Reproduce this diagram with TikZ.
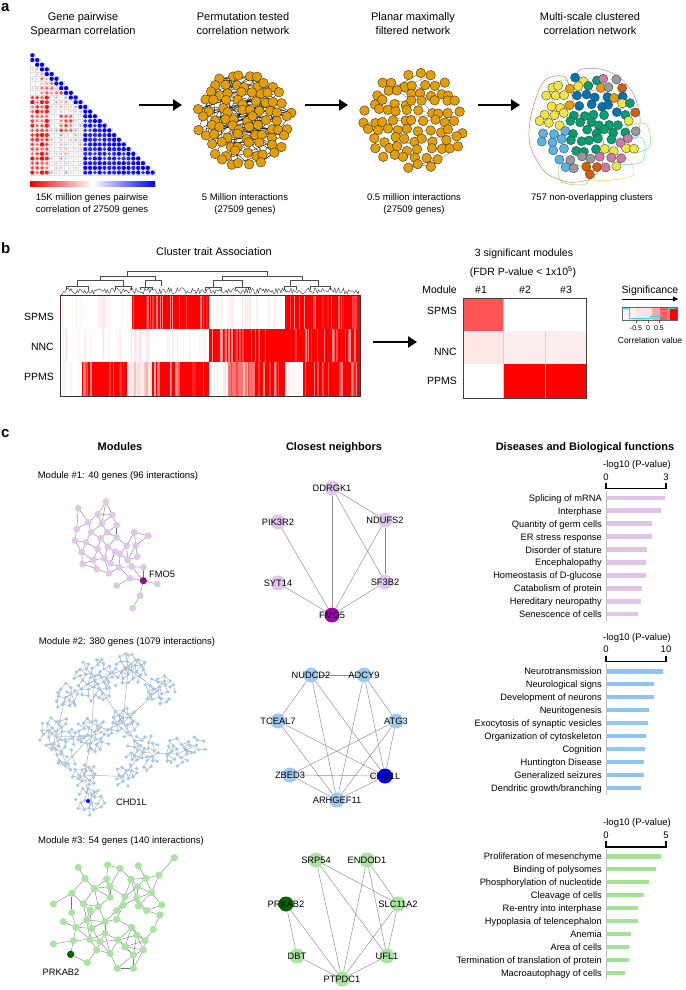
\documentclass[tikz,border=0pt]{standalone}
\usepackage{fontspec}
\setmainfont{Liberation Sans}
\usetikzlibrary{arrows.meta}
\definecolor{okor}{RGB}{228,158,0}
\definecolor{oksky}{RGB}{86,180,233}
\definecolor{okgreen}{RGB}{0,158,115}
\definecolor{okyel}{RGB}{240,228,66}
\definecolor{okblue}{RGB}{0,114,178}
\definecolor{okver}{RGB}{213,94,0}
\definecolor{okpink}{RGB}{204,121,167}
\definecolor{okgray}{RGB}{153,153,153}
\definecolor{mAc}{RGB}{224,198,232}
\definecolor{mAd}{RGB}{153,0,170}
\definecolor{mBc}{RGB}{158,202,240}
\definecolor{mBd}{RGB}{0,0,235}
\definecolor{mCc}{RGB}{168,228,160}
\definecolor{mCd}{RGB}{0,100,0}
\definecolor{barP}{RGB}{224,196,232}
\definecolor{barB}{RGB}{142,196,242}
\definecolor{barG}{RGB}{162,226,150}
\definecolor{cyanL}{RGB}{40,220,230}
\definecolor{hmSP}{RGB}{255,85,85}
\definecolor{hmNA}{RGB}{252,230,230}
\definecolor{hmNB}{RGB}{253,236,236}
\definecolor{huR}{RGB}{240,120,90}
\definecolor{huP}{RGB}{190,120,230}
\definecolor{huG}{RGB}{150,220,100}
\definecolor{huC}{RGB}{90,220,235}
\definecolor{huY}{RGB}{235,220,90}
\definecolor{huG2}{RGB}{120,220,120}
\newcount\netcnt
\newcommand\jitnet[5]{%
  \global\netcnt=0
  \foreach \gy in {-7,...,7}{%
    \foreach \gx in {-7,...,7}{%
      \pgfmathsetmacro\px{#5*\gx+#5*0.5*mod(\gy+20,2)+(rnd-0.5)*#5*0.6}%
      \pgfmathsetmacro\py{#5*0.88*\gy+(rnd-0.5)*#5*0.6}%
      \pgfmathtruncatemacro\ins{((\px)*(\px)+(\py)*(\py))<(#4*#4)}%
      \ifnum\ins=1
        \global\advance\netcnt by 1
        \pgfmathtruncatemacro\cur{\the\netcnt}%
        \coordinate (#1\cur) at ({#2+(\px)},{#3+(\py)});%
      \fi
  }}%
  \xdef\NN{\the\netcnt}%
}
\newcommand\hblock[7]{%
  \fill[red!#5!white] (#1,#3) rectangle (#2,#4);
  \pgfmathtruncatemacro\ns{max(1,(#2-#1)/4)}%
  \foreach \k in {1,...,\ns}{%
    \pgfmathsetmacro\sx{#1+rnd*(#2-#1-2)}%
    \pgfmathsetmacro\sw{0.4+rnd*1.8}%
    \pgfmathtruncatemacro\sp{#6+rnd*(#7-#6)}%
    \fill[red!\sp!white] (\sx,#3) rectangle ({\sx+\sw},#4);
  }}
\newcommand\mkcl[5]{%
  \foreach \k in {1,...,#5}{%
    \pgfmathsetmacro\rr{#4*sqrt((\k-0.5)/#5)}%
    \pgfmathsetmacro\aa{\k*137.508}%
    \pgfmathsetmacro\qx{#2+\rr*cos(\aa)+(rnd-0.5)*3.2}%
    \pgfmathsetmacro\qy{#3+\rr*sin(\aa)+(rnd-0.5)*3.2}%
    \expandafter\xdef\csname qx#1@\k\endcsname{\qx}%
    \expandafter\xdef\csname qy#1@\k\endcsname{\qy}%
    \coordinate (m2#1-\k) at (\qx,\qy);
  }%
  \foreach \k in {2,...,#5}{%
    \pgfmathtruncatemacro\km{\k-1}%
    \foreach \l in {1,...,\km}{%
      \pgfmathsetmacro\dd{veclen(\csname qx#1@\k\endcsname-\csname qx#1@\l\endcsname,\csname qy#1@\k\endcsname-\csname qy#1@\l\endcsname)}%
      \pgfmathtruncatemacro\ok{(\dd<8.2) && (rnd<0.7)}%
      \ifnum\ok=1 \draw[eB] (m2#1-\k) -- (m2#1-\l); \fi
  }}%
}
\newcommand\barchart[3]{%
  \foreach \lab/\len [count=\r from 0] in {#3}{%
    \pgfmathsetmacro\yy{#1+\r*12.95}%
    \fill[#2] (607,{\yy-2.2}) rectangle (\len,{\yy+2.2});
    \node[barL] (bl-#2-\r) at (602,{\yy+3.5}) {\lab};
  }%
  \draw[axisl] (606,{#1-7}) -- (606,{#1+9*12.95+7});
}
\def\MoneX{{318,235,293,337,265,305,350,230,273,322,403,445,225,258,302,350,380,407,245,293,323,345,360,383,412,248,290,313,332,280,358,327,395,430,390,350,472,420,398,430}}
\def\MoneY{{515,535,553,555,577,582,585,597,607,607,607,617,632,637,625,622,647,647,667,657,650,665,672,690,680,702,717,685,700,690,712,730,710,712,745,767,762,797,835,752}}
\def\MthrX{{523,235,323,360,415,255,320,393,437,477,283,330,413,455,215,375,330,410,160,250,295,370,415,485,215,270,350,440,260,350,228,315,460,275,395,315,410,220,270,355,160,290,375,430,212,330,400,262,352,400,480,190,435,300}}
\def\MthrY{{713,742,735,745,737,775,778,778,775,765,805,800,800,818,820,830,832,835,852,852,860,855,858,855,878,870,872,872,900,898,922,905,928,925,922,940,945,962,958,960,972,990,980,990,1003,1000,1005,1028,1045,1045,885,905,962,965}}
\begin{document}
\begin{tikzpicture}[x=1pt,y=-1pt,
 tA/.style={font=\fontsize{11}{13}\selectfont, inner sep=0pt, anchor=base},
 tB/.style={font=\fontsize{9.5}{11}\selectfont, inner sep=0pt, anchor=base},
 tBold/.style={font=\fontsize{11}{13}\selectfont\bfseries, inner sep=0pt, anchor=base},
 tS/.style={font=\fontsize{7}{8}\selectfont, inner sep=0pt, anchor=base},
 panelL/.style={font=\fontsize{15}{17}\selectfont\bfseries, inner sep=0pt, anchor=base west},
 rowL/.style={font=\fontsize{10.5}{12}\selectfont, inner sep=0pt, anchor=base east},
 barL/.style={font=\fontsize{9.3}{11}\selectfont, inner sep=0pt, anchor=base east},
 geneL/.style={font=\fontsize{9.3}{11}\selectfont, inner sep=0pt},
 bigarrow/.style={line width=2.6pt, -{Triangle[length=9pt,width=11pt]}},
 smallarrow/.style={line width=0.8pt, -{Triangle[length=5pt,width=5pt]}},
 orn/.style={fill=okor, draw=black!85, line width=0.35pt},
 pedge/.style={black, line width=0.35pt},
 pledge/.style={black!55, line width=0.3pt},
 eA/.style={black!55, line width=0.35pt},
 eB/.style={black!45, line width=0.3pt},
 cmgrid/.style={black!12, line width=0.2pt},
 dend/.style={black!70, line width=0.5pt},
 axisl/.style={black!25, line width=0.6pt},
 brk/.style={black, line width=1.1pt},
 nbn/.style={circle, minimum size=15pt, inner sep=0pt},
 nbedge/.style={black!45, line width=0.45pt},
 hull/.style={line width=0.5pt}]
\useasboundingbox (0,0) rectangle (685,990);
\fill[white] (0,0) rectangle (685,990);
\pgfmathsetseed{11}

% ================= panel a =================
\node[panelL] (pa) at (1,12) {a};
\node[tA] (ta1) at (83,20.5) {Gene pairwise};
\node[tA] (ta2) at (83,34.5) {Spearman correlation};
\node[tA] (tb1) at (243,20.5) {Permutation tested};
\node[tA] (tb2) at (243,34.5) {correlation network};
\node[tA] (tc1) at (413,20.5) {Planar maximally};
\node[tA] (tc2) at (413,34.5) {filtered network};
\node[tA] (td1) at (590,20.5) {Multi-scale clustered};
\node[tA] (td2) at (590,34.5) {correlation network};
\node[tB] (ba1) at (92,200) {15K million genes pairwise};
\node[tB] (ba2) at (92,212.5) {correlation of 27509 genes};
\node[tB] (bb1) at (245,200) {5 Million interactions};
\node[tB] (bb2) at (245,212.5) {(27509 genes)};
\node[tB] (bc1) at (414,200) {0.5 million interactions};
\node[tB] (bc2) at (414,212.5) {(27509 genes)};
\node[tB] (bd1) at (592,200) {757 non-overlapping clusters};

% correlation matrix
\foreach \i in {0,...,25}{\foreach \j in {0,...,\i}{%
  \pgfmathsetmacro\cx{30+(\j+0.5)*4.808}%
  \pgfmathsetmacro\cy{53+(\i+0.5)*4.69}%
  \draw[cmgrid] ({\cx-2.404},{\cy-2.345}) rectangle ({\cx+2.404},{\cy+2.345});
  \pgfmathsetmacro\vv{(\i-\j<=1) ? 1 : ((\j>=11) ? (0.8+0.2*rnd) : ((\j<=3 && \i>=9) ? (-0.55-0.45*rnd) : ((\j>=2 && \j<=6 && \i>=3 && \i<=8) ? (-0.25-0.55*rnd) : ((\j>=6 && \j<=8 && \i>=13 && \i<=16) ? (-0.5-0.4*rnd) : ((rnd-0.5)*0.8)))))}%
  \pgfmathsetmacro\av{abs(\vv)}%
  \pgfmathtruncatemacro\pc{100*\av}%
  \pgfmathsetmacro\rad{0.3+1.85*sqrt(\av)}%
  \pgfmathtruncatemacro\sg{\vv>0}%
  \ifnum\sg=1 \def\hue{blue}\else\def\hue{red}\fi
  \fill[\hue!\pc!white] (\cx,\cy) circle[radius=\rad pt];
}}
\shade[left color=red, right color=white] (30,181) rectangle (92.5,186);
\shade[left color=white, right color=blue] (92.5,181) rectangle (155,186);

% arrows
\coordinate (ar1s) at (139,105); \coordinate (ar1e) at (182,105);
\coordinate (ar2s) at (305,105); \coordinate (ar2e) at (348,105);
\coordinate (ar3s) at (478,105); \coordinate (ar3e) at (520,105);
\draw[bigarrow] (ar1s) -- (ar1e);
\draw[bigarrow] (ar2s) -- (ar2e);
\draw[bigarrow] (ar3s) -- (ar3e);

% permutation network
\jitnet{pp}{245}{119}{49}{9.8}
\foreach \k in {1,...,120}{%
  \pgfmathtruncatemacro\ea{random(1,\NN)}%
  \pgfmathtruncatemacro\eb{max(1,min(\NN,\ea+random(0,30)-15))}%
  \draw[pedge] (pp\ea) -- (pp\eb);
}
\foreach \k in {1,...,45}{%
  \pgfmathtruncatemacro\ea{random(1,\NN)}%
  \pgfmathtruncatemacro\eb{random(1,\NN)}%
  \draw[pedge] (pp\ea) -- (pp\eb);
}
\foreach \i in {1,...,\NN}{\filldraw[orn] (pp\i) circle (4.8pt);}

% planar network
\jitnet{pl}{414}{121}{51}{10.4}
\foreach \k in {1,...,55}{%
  \pgfmathtruncatemacro\ea{random(1,\NN)}%
  \pgfmathtruncatemacro\eb{min(\NN,\ea+((rnd<0.5) ? 1 : 10))}%
  \draw[pledge] (pl\ea) -- (pl\eb);
}
\foreach \i in {1,...,\NN}{\filldraw[orn] (pl\i) circle (4.8pt);}

% clustered network hulls
\draw[hull, draw=huR] plot[smooth cycle] coordinates {(531,115) (544,81) (565,77) (573,100) (582,120) (602,134) (602,165) (590,179) (568,182) (545,172) (530,145)};
\draw[hull, draw=huP] plot[smooth cycle] coordinates {(578,71) (600,69) (620,78) (634,95) (640,118) (637,138) (627,133) (628,120) (622,106) (611,96) (597,90) (582,91)};
\draw[hull, draw=huG] plot[smooth cycle] coordinates {(626,128) (646,124) (650,146) (633,152)};
\draw[hull, draw=huC] plot[smooth cycle] coordinates {(612,140) (642,138) (642,162) (612,162)};
\draw[hull, draw=huY] plot[smooth cycle] coordinates {(586,160) (626,158) (632,176) (592,180)};
\draw[hull, draw=huG2] plot[smooth cycle] coordinates {(550,88) (566,80) (572,100) (556,106)};
\draw[hull, draw=huC] plot[smooth cycle] coordinates {(602,100) (628,104) (630,124) (606,122)};
\draw[hull, draw=huG] plot[smooth cycle] coordinates {(560,165) (590,168) (586,184) (562,182)};
% clustered network nodes
\global\netcnt=0
\foreach \gy in {-7,...,7}{\foreach \gx in {-7,...,7}{%
  \pgfmathsetmacro\px{10*\gx+5*mod(\gy+20,2)+(rnd-0.5)*5}%
  \pgfmathsetmacro\py{8.8*\gy+(rnd-0.5)*5}%
  \pgfmathtruncatemacro\ins{((\px)*(\px)+(\py)*(\py))<2704}%
  \ifnum\ins=1
   \global\advance\netcnt by 1
   \pgfmathtruncatemacro\cur{\the\netcnt}%
   \pgfmathsetmacro\rr{veclen(\px,\py)}%
   \pgfmathsetmacro\ang{atan2((-1)*(\py),\px)}%
   \pgfmathtruncatemacro\flip{rnd<0.5}%
   \pgfmathtruncatemacro\cc{(\rr>37 && \ang>-20 && \ang<110) ? (mod(\cur,7)+1) : ((\px<-22) ? ((\py<6) ? 3 : 1) : ((\rr>28 && \ang<=-20 && \ang>-75) ? 8 : ((\py>32) ? 9 : ((\py<-10) ? 10 : 4))))}%
   \ifcase\cc \def\col{okgreen}\or\def\col{oksky}\or\def\col{okblue}\or\def\col{okyel}\or\def\col{okgreen}\or\def\col{okpink}\or\def\col{okgray}\or\def\col{okver}%
   \or\ifnum\flip=1 \def\col{okyel}\else\def\col{okpink}\fi
   \or\ifnum\flip=1 \def\col{okgray}\else\def\col{okver}\fi
   \or\ifnum\flip=1 \def\col{okor}\else\def\col{okblue}\fi
   \fi
   \filldraw[fill=\col, draw=black!75, line width=0.35pt] ({590+(\px)},{123+(\py)}) circle (4.6pt);
  \fi
}}

% ================= panel b =================
\node[panelL] (pb) at (1,253) {b};
\node[tA] (cta) at (214,255.5) {Cluster trait Association};
% dendrogram
\draw[dend] (127,276)--(127,271)--(267,271)--(267,276);
\draw[dend] (100,280)--(100,276)--(155,276)--(155,280);
\draw[dend] (77,286)--(77,280)--(123,280)--(123,286);
\draw[dend] (145,287)--(145,280)--(161,280)--(161,286);
\draw[dend] (222,280)--(222,276)--(302,276)--(302,280);
\draw[dend] (213,287)--(213,280)--(242,280)--(242,287);
\draw[dend] (290,286)--(290,280)--(318,280)--(318,286);
\draw[dend] (66,290)--(66,286)--(88,286)--(88,290) (115,290)--(115,286)--(131,286)--(131,290) (140,290)--(140,287)--(152,287)--(152,290);
\draw[dend] (205,291)--(205,287)--(221,287)--(221,291) (235,290)--(235,287)--(250,287)--(250,290) (284,290)--(284,286)--(296,286)--(296,290) (310,290)--(310,286)--(330,286)--(330,290);
\draw[black!85, line width=0.35pt] (61,295) \foreach \k in {1,...,238}{ -- ({61+\k*1.25},{294-rnd*6.5}) } -- (359,295);
% heatmap
\hblock{60}{132}{295}{328.7}{0}{2}{15}
\hblock{132}{209}{295}{328.7}{100}{40}{95}
\hblock{209}{285}{295}{328.7}{0}{2}{12}
\hblock{285}{360}{295}{328.7}{100}{40}{95}
\hblock{60}{209}{328.7}{362.3}{0}{2}{12}
\hblock{209}{360}{328.7}{362.3}{100}{40}{95}
\hblock{60}{82}{362.3}{396}{0}{2}{10}
\hblock{82}{127}{362.3}{396}{100}{40}{95}
\hblock{127}{152}{362.3}{396}{8}{3}{45}
\hblock{152}{209}{362.3}{396}{100}{35}{95}
\hblock{209}{228}{362.3}{396}{0}{2}{12}
\hblock{228}{255}{362.3}{396}{55}{15}{95}
\hblock{255}{285}{362.3}{396}{100}{40}{95}
\hblock{285}{303}{362.3}{396}{3}{0}{10}
\hblock{303}{360}{362.3}{396}{100}{40}{95}
\draw[black!80, line width=0.7pt] (60,295) rectangle (360,396);
\node[rowL] (rl1) at (54,320) {SPMS};
\node[rowL] (rl2) at (54,350.5) {NNC};
\node[rowL] (rl3) at (54,380.5) {PPMS};
\coordinate (ar4s) at (373,342); \coordinate (ar4e) at (417,342);
\draw[bigarrow] (ar4s) -- (ar4e);
% modules heatmap
\node[tA, font=\fontsize{10.5}{12}\selectfont] (sm1) at (524,256) {3 significant modules};
\node[tA, font=\fontsize{10.5}{12}\selectfont] (sm2) at (523,275) {(FDR P-value < 1x10\textsuperscript{5})};
\node[rowL] (mh) at (457,293) {Module};
\node[tA, font=\fontsize{10.5}{12}\selectfont] (mh1) at (481,293) {\#1};
\node[tA, font=\fontsize{10.5}{12}\selectfont] (mh2) at (525,293) {\#2};
\node[tA, font=\fontsize{10.5}{12}\selectfont] (mh3) at (566,293) {\#3};
\fill[white] (463,298) rectangle (586,398);
\fill[hmSP] (463,298) rectangle (503,331);
\fill[hmNA] (463,331) rectangle (503,364);
\fill[hmNB] (503,331) rectangle (586,364);
\fill[red] (503,364) rectangle (586,398);
\draw[red!25!white, line width=0.5pt] (503,298) -- (503,398);
\draw[red!25!white, line width=0.5pt] (545,331) -- (545,398);
\draw[black!75, line width=0.7pt] (463,298) rectangle (586,398);
\node[rowL] (rr1) at (457,314) {SPMS};
\node[rowL] (rr2) at (457,355) {NNC};
\node[rowL] (rr3) at (457,384.3) {PPMS};
% legend
\node[tA, font=\fontsize{10.5}{12}\selectfont] (sig) at (650,293) {Significance};
\coordinate (sgs) at (622,299); \coordinate (sge) at (678,299);
\draw[smallarrow] (sgs) -- (sge);
\fill[red!4!white] (622,307) rectangle (636,320);
\fill[red!10!white] (636,307) rectangle (652,320);
\fill[red!35!white] (652,307) rectangle (660,320);
\fill[red!65!white] (660,307) rectangle (667,320);
\fill[red!50!white] (667,307) rectangle (670,320);
\fill[red] (670,307) rectangle (677,320);
\draw[black!60, line width=0.5pt] (622,307) rectangle (677,320);
\draw[cyanL, line width=0.7pt] (623,308.5) -- (629,308.5) -- (629,318.5) -- (650,318.5) -- (650,316.5) -- (661,316.5) -- (661,311) -- (667,311) -- (667,308.5) -- (676,308.5);
\draw[black!70, line width=0.4pt] (636,320) -- (636,322.5) (648,320) -- (648,322.5) (659,320) -- (659,322.5);
\node[tS] (lg1) at (636,330) {-0.5};
\node[tS] (lg2) at (648,330) {0};
\node[tS] (lg3) at (659,330) {0.5};
\node[tA, font=\fontsize{8.5}{10}\selectfont] (cv) at (650,343) {Correlation value};

% ================= panel c =================
\node[panelL] (pc) at (1,437) {c};
\node[tBold] (h1) at (120,450.7) {Modules};
\node[tBold] (h2) at (334,450.7) {Closest neighbors};
\node[tBold] (h3) at (585,450.7) {Diseases and Biological functions};
\node[tB] (mt1) at (118,478) {Module \#1: 40 genes (96 interactions)};
\node[tB] (mt2) at (127,644.5) {Module \#2: 380 genes (1079 interactions)};
\node[tB] (mt3) at (121,843.5) {Module \#3: 54 genes (140 interactions)};

% module 1 network
\foreach \i in {1,...,40}{%
  \pgfmathsetmacro\xx{\MoneX[\i-1]/3}%
  \pgfmathsetmacro\yy{330+\MoneY[\i-1]/3}%
  \coordinate (m1-\i) at (\xx,\yy);
}
\foreach \a/\b in {1/3,1/4,3/4,2/5,3/5,3/6,4/6,4/7,5/8,5/9,6/9,6/10,7/10,7/16,8/13,9/14,9/15,10/15,10/16,11/12,11/18,12/18,11/17,13/14,14/19,14/20,15/20,15/21,16/21,16/17,17/23,18/24,17/24,19/26,19/30,20/30,20/28,21/28,21/22,22/23,22/29,23/24,24/25,25/18,24/33,26/27,26/30,27/32,28/29,28/32,29/31,30/28,31/33,31/35,32/31,33/34,34/40,35/40,33/40,36/35,37/40,38/40,38/39,27/30,29/22,23/31,2/8,13/19,1/6}{\draw[eA] (m1-\a) -- (m1-\b);}
\foreach \i in {1,...,39}{\fill[mAc] (m1-\i) circle (3.4pt);}
\fill[mAd] (m1-40) circle (3.6pt);
\node[geneL, anchor=base west] (gl1) at (149,577.3) {FMO5};

% module 2 network
\mkcl{A}{95}{680}{22}{46}
\mkcl{B}{130}{668}{17}{30}
\mkcl{C}{160}{690}{16}{26}
\mkcl{D}{66}{697}{13}{16}
\mkcl{E}{57}{735}{19}{34}
\mkcl{F}{93}{735}{18}{34}
\mkcl{G}{124}{722}{15}{24}
\mkcl{H}{143}{752}{18}{32}
\mkcl{I}{178}{752}{15}{22}
\mkcl{J}{197}{745}{9}{8}
\mkcl{K}{85}{775}{13}{18}
\mkcl{L}{90}{800}{15}{22}
\mkcl{M}{125}{775}{12}{14}
\mkcl{N}{66}{760}{11}{12}
\foreach \a/\b in {A/B,B/C,A/D,A/G,G/F,F/E,E/N,F/K,K/L,G/H,H/I,I/J,H/M,C/G,M/K,A/F,D/E,B/G,F/N}{\draw[eB] (m2\a-1) -- (m2\b-1);}
\foreach \nm/\n in {A/46,B/30,C/26,D/16,E/34,F/34,G/24,H/32,I/22,J/8,K/18,L/22,M/14,N/12}{%
  \foreach \k in {1,...,\n}{\fill[mBc] (m2\nm-\k) circle (1.8pt);}}
\coordinate (chd) at (88,801);
\fill[mBd] (chd) circle (2pt);
\node[geneL, anchor=base west] (gl2) at (116,805.7) {CHD1L};

% module 3 network
\foreach \i in {1,...,54}{%
  \pgfmathsetmacro\xx{\MthrX[\i-1]/3}%
  \pgfmathsetmacro\yy{620+\MthrY[\i-1]/3}%
  \coordinate (m3-\i) at (\xx,\yy);
}
\foreach \i in {1,...,53}{%
  \pgfmathtruncatemacro\js{\i+1}%
  \foreach \j in {\js,...,54}{%
    \pgfmathsetmacro\dd{veclen(\MthrX[\i-1]-\MthrX[\j-1],\MthrY[\i-1]-\MthrY[\j-1])}%
    \pgfmathtruncatemacro\ok{(\dd<64) && (rnd<0.78)}%
    \ifnum\ok=1 \draw[eA] (m3-\i) -- (m3-\j); \fi
  }}
\draw[eA] (m3-1) -- (m3-10);
\foreach \i in {1,...,54}{\ifnum\i=45 \fill[mCd] (m3-\i) circle (3.7pt);\else\fill[mCc] (m3-\i) circle (3.6pt);\fi}
\node[geneL, anchor=base] (gl3) at (61,975) {PRKAB2};

% closest neighbours 1
\node[nbn, fill=mAc] (n1a) at (332,488) {};
\node[nbn, fill=mAc] (n1b) at (278,522) {};
\node[nbn, fill=mAc] (n1c) at (385,520) {};
\node[nbn, fill=mAc] (n1d) at (278,583) {};
\node[nbn, fill=mAc] (n1e) at (385,582) {};
\node[nbn, fill=mAd] (n1f) at (332,615) {};
\foreach \a/\b in {a/c,a/f,a/e,b/f,c/f,c/e,d/f,e/f}{\draw[nbedge] (n1\a) -- (n1\b);}
\node[geneL] (g1a) at (n1a) {DDRGK1};
\node[geneL] (g1b) at (n1b) {PIK3R2};
\node[geneL] (g1c) at (n1c) {NDUFS2};
\node[geneL] (g1d) at (n1d) {SYT14};
\node[geneL] (g1e) at (n1e) {SF3B2};
\node[geneL] (g1f) at (n1f) {FMO5};

% closest neighbours 2
\node[nbn, fill=mBc] (n2a) at (311,675) {};
\node[nbn, fill=mBc] (n2b) at (364,675) {};
\node[nbn, fill=mBc] (n2c) at (278,721) {};
\node[nbn, fill=mBc] (n2d) at (396,721) {};
\node[nbn, fill=mBc] (n2e) at (290,775) {};
\node[nbn, fill=mBd] (n2f) at (385,776) {};
\node[nbn, fill=mBc] (n2g) at (337,800) {};
\foreach \a/\b in {a/b,a/c,a/g,a/f,b/d,b/g,b/f,c/f,c/g,d/e,d/f,d/g,e/f,e/g,g/f}{\draw[nbedge] (n2\a) -- (n2\b);}
\node[geneL] (g2a) at (n2a) {NUDCD2};
\node[geneL] (g2b) at (n2b) {ADCY9};
\node[geneL] (g2c) at (n2c) {TCEAL7};
\node[geneL] (g2d) at (n2d) {ATG3};
\node[geneL] (g2e) at (n2e) {ZBED3};
\node[geneL] (g2f) at (n2f) {CHD1L};
\node[geneL] (g2g) at (n2g) {ARHGEF11};

% closest neighbours 3
\node[nbn, fill=mCc] (n3a) at (316,860) {};
\node[nbn, fill=mCc] (n3b) at (367,860) {};
\node[nbn, fill=mCd] (n3c) at (286,904) {};
\node[nbn, fill=mCc] (n3d) at (398,904) {};
\node[nbn, fill=mCc] (n3e) at (297,956) {};
\node[nbn, fill=mCc] (n3f) at (387,956) {};
\node[nbn, fill=mCc] (n3g) at (342,979) {};
\foreach \a/\b in {a/d,a/g,a/f,b/d,b/g,b/f,c/e,c/g,d/g,d/f,e/g,f/g}{\draw[nbedge] (n3\a) -- (n3\b);}
\node[geneL] (g3a) at (n3a) {SRP54};
\node[geneL] (g3b) at (n3b) {ENDOD1};
\node[geneL] (g3c) at (n3c) {PRKAB2};
\node[geneL] (g3d) at (n3d) {SLC11A2};
\node[geneL] (g3e) at (n3e) {DBT};
\node[geneL] (g3f) at (n3f) {UFL1};
\node[geneL] (g3g) at (n3g) {PTPDC1};

% bar charts
\node[tB] (ax1) at (637,467) {-log10 (P-value)};
\node[tB] (ax1a) at (606,480) {0};
\node[tB] (ax1b) at (666,480) {3};
\draw[brk] (606,482.5) -- (606,488.3) -- (666,488.3) -- (666,482.5);
\barchart{497.7}{barP}{Splicing of mRNA/665,Interphase/661,Quantity of germ cells/652,ER stress response/652,Disorder of stature/647,Encephalopathy/646,Homeostasis of D-glucose/646,Catabolism of protein/642,Hereditary neuropathy/641,Senescence of cells/638}

\node[tB] (ax2) at (637,640) {-log10 (P-value)};
\node[tB] (ax2a) at (606,652.7) {0};
\node[tB] (ax2b) at (666,652.7) {10};
\draw[brk] (606,655.5) -- (606,661.5) -- (666,661.5) -- (666,655.5);
\barchart{671.3}{barB}{Neurotransmission/663,Neurological signs/654,Development of neurons/654,Neuritogenesis/649,Exocytosis of synaptic vesicles/648,Organization of cytoskeleton/646,Cognition/645,Huntington Disease/644,Generalized seizures/644,{Dendritic growth/branching}/641}

\node[tB] (ax3) at (637,825.5) {-log10 (P-value)};
\node[tB] (ax3a) at (606,838.3) {0};
\node[tB] (ax3b) at (666,838.3) {5};
\draw[brk] (606,841) -- (606,847) -- (666,847) -- (666,841);
\barchart{856.3}{barG}{Proliferation of mesenchyme/661,Binding of polysomes/656,Phosphorylation of nucleotide/649,Cleavage of cells/644,Re-entry into interphase/638,Hypoplasia of telencephalon/638,Anemia/631,Area of cells/629,Termination of translation of protein/629,Macroautophagy of cells/625}
\end{tikzpicture}
\end{document}
